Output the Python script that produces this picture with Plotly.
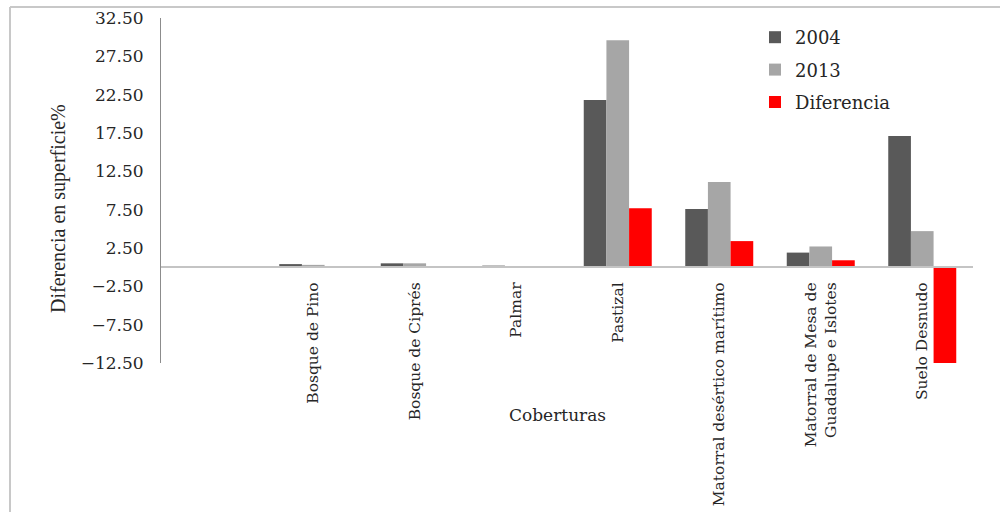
import plotly.graph_objects as go

# Cover classes (land-cover categories)
coberturas = [
    "Bosque de Pino",
    "Bosque de Ciprés",
    "Palmar",
    "Pastizal",
    "Matorral desértico marítimo",
    "Matorral de Mesa de<br>Guadalupe e Islotes",
    "Suelo Desnudo",
]

# Share of surface (%) per year and the change between them
sup_2004 = [0.4, 0.5, 0.2, 21.8, 7.6, 1.9, 17.1]
sup_2013 = [0.3, 0.5, 0.1, 29.6, 11.1, 2.7, 4.7]
diferencia = [-0.1, 0.0, -0.1, 7.7, 3.4, 0.9, -12.5]

y_ticks = [-12.5, -7.5, -2.5, 2.5, 7.5, 12.5, 17.5, 22.5, 27.5, 32.5]

FONT = "DejaVu Serif"
TITLE_FONT = "Liberation Serif"
TXT = "#262626"

fig = go.Figure()
series = [
    ("2004", sup_2004, "#595959"),
    ("2013", sup_2013, "#a6a6a6"),
    ("Diferencia", diferencia, "#ff0000"),
]
for name, vals, col in series:
    fig.add_trace(go.Bar(
        x=coberturas, y=vals, name=name, legendgroup=name,
        marker=dict(color=col, line=dict(width=0)),
    ))

L, R, T, B = 161, 27, 18, 149
W, H = 1000, 512
pw, ph = W - L - R, H - T - B

def px(x):
    return (x - L) / pw

def py(y):
    return (H - B - y) / ph

ymin, ymax = -12.5, 32.5

fig.update_layout(
    width=W, height=H,
    margin=dict(l=L, r=R, t=T, b=B, autoexpand=False),
    paper_bgcolor="white", plot_bgcolor="white",
    barmode="group", bargap=0.33, bargroupgap=0,
    font=dict(family=FONT, color=TXT),
    showlegend=True,
    legend=dict(
        x=px(755), y=py(19), xanchor="left", yanchor="top",
        font=dict(family=FONT, size=18, color=TXT),
        tracegroupgap=6, itemwidth=30,
        bgcolor="rgba(0,0,0,0)",
    ),
    xaxis=dict(
        type="category", categoryorder="array", categoryarray=coberturas,
        range=[-1.5, 6.5], automargin=False,
        anchor="free", position=(0 - ymin) / (ymax - ymin),
        showline=True, linecolor="#c4c4c4", linewidth=2,
        showgrid=False, zeroline=False, ticks="",
        tickangle=-90, ticklabelstandoff=8,
        tickfont=dict(family=FONT, size=15.5, color=TXT),
    ),
    yaxis=dict(
        range=[ymin, ymax], tickvals=y_ticks, tickformat=".2f",
        automargin=False,
        showline=True, linecolor="#8c8c8c", linewidth=1,
        showgrid=False, zeroline=False, ticks="",
        ticklabelstandoff=13,
        tickfont=dict(family=FONT, size=17, color=TXT),
    ),
    annotations=[
        dict(text="Coberturas", x=px(557), y=py(415), xref="paper", yref="paper",
             xanchor="center", yanchor="middle",
             showarrow=False, font=dict(family=FONT, size=17, color=TXT)),
        dict(text="Diferencia en superficie%", x=px(58), y=py(208),
             xref="paper", yref="paper", textangle=-90, showarrow=False,
             xanchor="center", yanchor="middle",
             font=dict(family=TITLE_FONT, size=20, color=TXT)),
    ],
    shapes=[
        dict(type="line", xref="paper", yref="paper",
             x0=px(10), x1=px(1010), y0=py(7), y1=py(7),
             line=dict(color="#c8c8c8", width=2)),
        dict(type="line", xref="paper", yref="paper",
             x0=px(10), x1=px(10), y0=py(7), y1=py(520),
             line=dict(color="#c8c8c8", width=2)),
    ],
)

fig.write_html("out.html")
